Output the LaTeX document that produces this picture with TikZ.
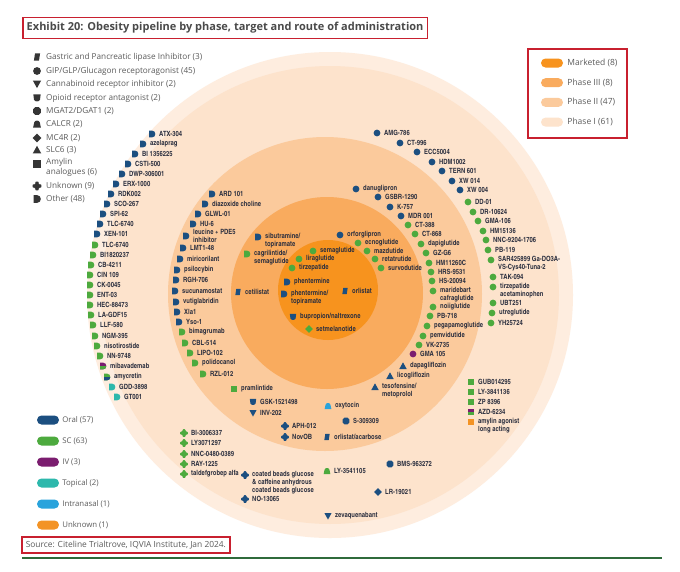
\documentclass[tikz,border=0pt]{standalone}
\usepackage{fontspec}
\setmainfont{Open Sans}
\newfontfamily\lblfont{texgyreheroscn-bold}[Extension=.otf]
\usetikzlibrary{positioning}

% route colours
\definecolor{oral}{HTML}{1C4F80}
\definecolor{sc}{HTML}{4DAA3E}
\definecolor{iv}{HTML}{7B1D6F}
\definecolor{topical}{HTML}{2DB8AC}
\definecolor{nasal}{HTML}{29A3DC}
\definecolor{unkroute}{HTML}{F39325}
% phase colours
\definecolor{mkt}{HTML}{F7931E}
\definecolor{ph3}{HTML}{F9AB5E}
\definecolor{ph2}{HTML}{FBCA9C}
\definecolor{ph1}{HTML}{FDE3CC}
\definecolor{ph1rim}{HTML}{FEEDDF}
% text and frames
\definecolor{boxred}{HTML}{C8202F}
\definecolor{lbltxt}{HTML}{2B2F3F}
\definecolor{legtxt}{HTML}{5B5B5B}
\definecolor{titletxt}{HTML}{4A4A4A}
\definecolor{legmark}{HTML}{353535}
\definecolor{rulegreen}{HTML}{2F6B3B}

\tikzset{
  lbl/.style={anchor=west, inner sep=0pt, text=lbltxt, align=left,
    font=\lblfont\fontsize{7.2}{8}\selectfont},
  lblm/.style={lbl, anchor=north west},
  legend/.style={anchor=west, inner sep=0pt, text=legtxt, align=left,
    font=\fontsize{8.2}{9.8}\selectfont},
  pill/.style={rounded corners=4.5pt, minimum width=22pt, minimum height=9pt, inner sep=0pt},
  redbox/.style={draw=boxred, line width=1.5pt},
  % target markers
  pics/lip/.style={code={\fill (-2.7,3.2) -- (1.7,3.2) -- (2.7,-3.2) -- (-1.7,-3.2) -- cycle;}},
  pics/glp/.style={code={\fill (0,0) circle (3.4);}},
  pics/cbone/.style={code={\fill (-3.6,-3) -- (3.6,-3) -- (0,3.6) -- cycle;}},
  pics/opi/.style={code={\fill (-3.2,-3.2) -- (3.2,-3.2) -- (2.6,1.4) .. controls (2.2,3.5) and (-2.2,3.5) .. (-2.6,1.4) -- cycle;}},
  pics/mgat/.style={code={\fill (22.5:3.7) \foreach \a in {67.5,112.5,...,337.5} {-- (\a:3.7)} -- cycle;}},
  pics/calcr/.style={code={\fill (-3.4,3.2) -- (3.4,3.2) -- (2.4,-1.4) .. controls (2,-3.5) and (-2,-3.5) .. (-2.4,-1.4) -- cycle;}},
  pics/mcfour/.style={code={\fill (0,-3.8) -- (3.8,0) -- (0,3.8) -- (-3.8,0) -- cycle;}},
  pics/slcsix/.style={code={\fill (-3.7,3) -- (3.7,3) -- (0,-3.7) -- cycle;}},
  pics/amy/.style={code={\fill (-3.4,-3.4) rectangle (3.4,3.4);}},
  pics/unk/.style={code={\fill[rounded corners=0.8pt] (-1.5,-3.8) -- (1.5,-3.8) -- (1.5,-1.5) -- (3.8,-1.5) -- (3.8,1.5) -- (1.5,1.5) -- (1.5,3.8) -- (-1.5,3.8) -- (-1.5,1.5) -- (-3.8,1.5) -- (-3.8,-1.5) -- (-1.5,-1.5) -- cycle;}},
  pics/oth/.style={code={\fill (-3,-3.4) -- (0,-3.4) .. controls (4.4,-3.4) and (4.4,3.4) .. (0,3.4) -- (-3,3.4) -- cycle;}},
}

% name, x, y, marker, colour, text
\newcommand{\drug}[6]{%
  \pic[#5] at (#2,#3) {#4};
  \node[lbl] (#1) at (#2+7,#3) {#6};}
% same, text hangs from the marker line
\newcommand{\drugm}[6]{%
  \pic[#5] at (#2,#3) {#4};
  \node[lblm] (#1) at (#2+7,#3-3.6) {#6};}
% two routes: top colour #5, bottom colour #6
\newcommand{\drugs}[7]{%
  \pic[#5] at (#2,#3) {#4};
  \begin{scope}\clip (#2-5,#3) rectangle (#2+5,#3+5); \pic[#6] at (#2,#3) {#4};\end{scope}
  \node[lbl] (#1) at (#2+7,#3) {#7};}

\begin{document}
\begin{tikzpicture}[x=1pt,y=-1pt]

	\fill[white] (0,0) rectangle (680,571);
	\useasboundingbox (0,0) rectangle (680,571);

	% title and source
	\node[redbox, anchor=west, inner xsep=4pt, inner ysep=0pt, minimum height=21pt,
	  text=titletxt, font=\bfseries\fontsize{11}{12}\selectfont] (title) at (22,28)
	  {Exhibit 20: Obesity pipeline by phase, target and route of administration};
	\node[redbox, anchor=west, inner xsep=4pt, inner ysep=0pt, minimum height=16pt,
	  text=legtxt, font=\fontsize{8.4}{9}\selectfont] (src) at (21,545)
	  {Source: Citeline Trialtrove, IQVIA Institute, Jan 2024.};
	\coordinate (ruleL) at (22,558);
	\coordinate (ruleR) at (662,558);
	\draw[rulegreen, line width=1.8pt] (ruleL) -- (ruleR);

	% the phase discs
	\coordinate (cI) at (330,295);
	\coordinate (cII) at (325,294);
	\coordinate (cIII) at (327,293);
	\coordinate (cM) at (328,290);
	\fill[ph1rim] (cI) circle (243);
	\fill[ph1] (cI) circle (229);
	\fill[ph2] (cII) circle (157);
	\fill[ph3] (cIII) circle (96);
	\fill[mkt] (cM) circle (50);

	% target legend
	\pic[legmark, scale=1.15] at (37,57) {lip};
	\node[legend] (kLip) at (46,57) {Gastric and Pancreatic lipase Inhibitor (3)};
	\pic[legmark, scale=1.15] at (37,71) {glp};
	\node[legend] (kGlp) at (46,71) {GIP/GLP/Glucagon receptoragonist (45)};
	\pic[legmark, scale=1.15] at (37,84) {cbone};
	\node[legend] (kCb) at (46,84) {Cannabinoid receptor inhibitor (2)};
	\pic[legmark, scale=1.15] at (37,98) {opi};
	\node[legend] (kOpi) at (46,98) {Opioid receptor antagonist (2)};
	\pic[legmark, scale=1.15] at (37,111) {mgat};
	\node[legend] (kMgat) at (46,111) {MGAT2/DGAT1 (2)};
	\pic[legmark, scale=1.15] at (37,124) {calcr};
	\node[legend] (kCalcr) at (46,124) {CALCR (2)};
	\pic[legmark, scale=1.15] at (37,138) {mcfour};
	\node[legend] (kMc) at (46,138) {MC4R (2)};
	\pic[legmark, scale=1.15] at (37,150) {slcsix};
	\node[legend] (kSlc) at (46,150) {SLC6 (3)};
	\pic[legmark, scale=1.15] at (37,164) {amy};
	\node[legend, anchor=north west] (kAmy) at (46,158.5) {Amylin\\analogues (6)};
	\pic[legmark, scale=1.15] at (37,186) {unk};
	\node[legend] (kUnk) at (46,186) {Unknown (9)};
	\pic[legmark, scale=1.15] at (37,199) {oth};
	\node[legend] (kOth) at (46,199) {Other (48)};

	% phase legend
	\draw[redbox] (528,49) rectangle (627,138);
	\node[pill, fill=mkt] (pM) at (552,63) {};
	\node[pill, fill=ph3, below=10.3pt of pM] (pIII) {};
	\node[pill, fill=ph2, below=10.3pt of pIII] (pII) {};
	\node[pill, fill=ph1, below=10.3pt of pII] (pI) {};
	\node[legend, font=\fontsize{8.5}{10}\selectfont, right=4pt of pM] (tM) {Marketed (8)};
	\node[legend, font=\fontsize{8.5}{10}\selectfont, right=4pt of pIII] (tIII) {Phase III (8)};
	\node[legend, font=\fontsize{8.5}{10}\selectfont, right=4pt of pII] (tII) {Phase II (47)};
	\node[legend, font=\fontsize{8.5}{10}\selectfont, right=4pt of pI] (tI) {Phase I (61)};

	% route legend
	\node[pill, fill=oral] (rOral) at (48,420) {};
	\node[pill, fill=sc, below=11.6pt of rOral] (rSC) {};
	\node[pill, fill=iv, below=11.6pt of rSC] (rIV) {};
	\node[pill, fill=topical, below=11.6pt of rIV] (rTop) {};
	\node[pill, fill=nasal, below=11.6pt of rTop] (rNas) {};
	\node[pill, fill=unkroute, below=11.6pt of rNas] (rUnk) {};
	\node[legend, font=\fontsize{7.8}{10}\selectfont, right=3pt of rOral] (tOral) {Oral (57)};
	\node[legend, font=\fontsize{7.8}{10}\selectfont, right=3pt of rSC] (tSC) {SC (63)};
	\node[legend, font=\fontsize{7.8}{10}\selectfont, right=3pt of rIV] (tIV) {IV (3)};
	\node[legend, font=\fontsize{7.8}{10}\selectfont, right=3pt of rTop] (tTop) {Topical (2)};
	\node[legend, font=\fontsize{7.8}{10}\selectfont, right=3pt of rNas] (tNas) {Intranasal (1)};
	\node[legend, font=\fontsize{7.8}{10}\selectfont, right=3pt of rUnk] (tUnk) {Unknown (1)};

	% marketed
	\drug{sema}{313}{251}{glp}{sc}{semaglutide}
	\drug{lira}{299}{259}{glp}{sc}{liraglutide}
	\drug{tirz}{292}{268}{glp}{sc}{tirzepatide}
	\drug{phen}{287}{282}{oth}{oral}{phentermine}
	\drugm{phentop}{284}{294}{oth}{oral}{phentermine/\\topiramate}
	\drug{orli}{345}{291}{lip}{oral}{orlistat}
	\drug{bupnal}{293}{317}{opi}{oral}{bupropion/naltrexone}
	\drug{setm}{309}{329}{mcfour}{sc}{setmelanotide}

	% phase III
	\drug{orfo}{340}{235}{glp}{oral}{orforglipron}
	\drug{ecno}{358}{243}{glp}{sc}{ecnoglutide}
	\drug{mazd}{367}{251}{glp}{sc}{mazdutide}
	\drug{reta}{375}{259}{glp}{sc}{retatrutide}
	\drug{survo}{381}{268}{glp}{sc}{survodutide}
	\drugm{sibtop}{258}{237}{oth}{oral}{sibutramine/\\topiramate}
	\drugm{cagsema}{247}{254}{oth}{sc}{cagrilintide/\\semaglutide}
	\drug{ceti}{238}{292}{lip}{oral}{cetilistat}

	% phase II, right arc
	\drug{danu}{356}{189}{glp}{oral}{danuglipron}
	\drug{gsbr}{378}{197}{glp}{oral}{GSBR-1290}
	\drug{k757}{390}{207}{glp}{oral}{K-757}
	\drug{mdr}{401}{216}{glp}{oral}{MDR 001}
	\drug{ct388}{408}{225}{glp}{sc}{CT-388}
	\drug{ct868}{415}{234}{glp}{sc}{CT-868}
	\drug{dapi}{421}{244}{glp}{sc}{dapiglutide}
	\drug{gzg6}{426}{253}{glp}{sc}{GZ-G6}
	\drug{hm112}{429}{263}{glp}{sc}{HM11260C}
	\drug{hrs}{431}{272}{glp}{sc}{HRS-9531}
	\drug{hs200}{432}{281}{glp}{sc}{HS-20094}
	\drugm{marid}{433}{291}{glp}{sc}{maridebart\\cafraglutide}
	\drug{noii}{433}{307}{glp}{sc}{noiiglutide}
	\drug{pb718}{430}{316}{glp}{sc}{PB-718}
	\drug{pega}{427}{326}{glp}{sc}{pegapamoglutide}
	\drug{pemv}{423}{336}{glp}{sc}{pemvidutide}
	\drug{vk27}{419}{345}{glp}{sc}{VK-2735}
	\drug{gma105}{413}{354}{glp}{iv}{GMA 105}
	\drug{dapa}{403}{366}{slcsix}{oral}{dapagliflozin}
	\drug{lico}{390}{376}{slcsix}{oral}{licogliflozin}
	\drugm{teso}{375}{387}{slcsix}{oral}{tesofensine/\\metoprolol}

	% phase II, left arc
	\drug{ard}{212}{194}{oth}{oral}{ARD 101}
	\drug{diaz}{205}{204}{oth}{oral}{diazoxide choline}
	\drug{glwl}{198}{214}{oth}{oral}{GLWL-01}
	\drug{hu6}{193}{224}{oth}{oral}{HU-6}
	\drug{leuc}{186}{236}{oth}{oral}{leucine + PDE5\\inhibitor}
	\drug{lmt}{183}{248}{oth}{oral}{LMT1-48}
	\drug{miri}{180}{259}{oth}{oral}{miricorilant}
	\drug{psil}{177}{270}{oth}{oral}{psilocybin}
	\drug{rgh}{176}{280}{oth}{oral}{RGH-706}
	\drug{sucu}{175}{291}{oth}{oral}{sucunamostat}
	\drug{vuti}{176}{302}{oth}{oral}{vutiglabridin}
	\drug{xla}{177}{312}{oth}{oral}{Xla1}
	\drug{yso}{179}{322}{oth}{oral}{Yso-1}
	\drug{bima}{182}{332}{oth}{sc}{bimagrumab}
	\drug{cbl}{185}{343}{oth}{sc}{CBL-514}
	\drug{lipo}{190}{353}{oth}{sc}{LIPO-102}
	\drug{poli}{195}{363}{oth}{sc}{polidocanol}
	\drug{rzl}{203}{374}{oth}{sc}{RZL-012}

	% phase II, bottom
	\drug{pram}{234}{389}{amy}{sc}{pramlintide}
	\drug{gsk}{253}{402}{opi}{oral}{GSK-1521498}
	\drug{inv}{253}{413}{cbone}{oral}{INV-202}
	\drug{aph}{285}{426}{unk}{oral}{APH-012}
	\drug{novob}{285}{437}{unk}{oral}{NovOB}
	\drug{oxy}{328}{406}{calcr}{nasal}{oxytocin}
	\drug{s309}{346}{421}{mgat}{oral}{S-309309}
	\drug{orlaca}{327}{437}{lip}{oral}{orlistat/acarbose}

	% phase I, right arc
	\drug{amg}{377}{133}{glp}{oral}{AMG-786}
	\drug{ct996}{400}{143}{glp}{oral}{CT-996}
	\drug{ecc}{417}{152}{glp}{oral}{ECC5004}
	\drug{hdm}{432}{162}{glp}{oral}{HDM1002}
	\drug{tern}{442}{171}{glp}{oral}{TERN 601}
	\drug{xw14}{452}{181}{glp}{oral}{XW 014}
	\drug{xw04}{460}{190}{glp}{oral}{XW 004}
	\drug{dd01}{468}{202}{glp}{sc}{DD-01}
	\drug{dr10}{473}{212}{glp}{sc}{DR-10624}
	\drug{gma106}{478}{221}{glp}{sc}{GMA-106}
	\drug{hm151}{483}{231}{glp}{sc}{HM15136}
	\drug{nnc92}{486}{240}{glp}{sc}{NNC-9204-1706}
	\drug{pb119}{488}{250}{glp}{sc}{PB-119}
	\drugm{sar}{491}{260}{glp}{sc}{SAR425899 Ga-DO3A-\\VS-Cys40-Tuna-2}
	\drug{tak}{493}{277}{glp}{sc}{TAK-094}
	\drugm{tirzac}{493}{287}{glp}{sc}{tirzepatide\\acetaminophen}
	\drug{ubt}{493}{303}{glp}{sc}{UBT251}
	\drug{utre}{492}{313}{glp}{sc}{utreglutide}
	\drug{yh}{491}{323}{glp}{sc}{YH25724}

	% phase I, left arc
	\drug{atx}{152}{134}{oth}{oral}{ATX-304}
	\drug{azel}{143}{144}{oth}{oral}{azelaprag}
	\drug{bi135}{135}{154}{oth}{oral}{BI 1356225}
	\drug{csti}{128}{164}{oth}{oral}{CSTI-500}
	\drug{dwp}{122}{174}{oth}{oral}{DWP-306001}
	\drug{erx}{116}{184}{oth}{oral}{ERX-1000}
	\drug{rdk}{111}{194}{oth}{oral}{RDK002}
	\drug{sco}{107}{204}{oth}{oral}{SCO-267}
	\drug{spi}{103}{214}{oth}{oral}{SPI-62}
	\drug{tlca}{100}{224}{oth}{oral}{TLC-6740}
	\drug{xen}{97}{234}{oth}{oral}{XEN-101}
	\drug{tlcb}{95}{245}{oth}{sc}{TLC-6740}
	\drug{bi182}{93}{255}{oth}{sc}{BI1820237}
	\drug{cb42}{91}{265}{oth}{sc}{CB-4211}
	\drug{cin}{90}{275}{oth}{sc}{CIN 109}
	\drug{ck00}{90}{285}{oth}{sc}{CK-0045}
	\drug{ent}{90}{295}{oth}{sc}{ENT-03}
	\drug{hec}{90}{305}{oth}{sc}{HEC-88473}
	\drug{lagdf}{91}{315}{oth}{sc}{LA-GDF15}
	\drug{llf}{93}{325}{oth}{sc}{LLF-580}
	\drug{ngm}{95}{336}{oth}{sc}{NGM-395}
	\drug{niso}{97}{346}{oth}{sc}{nisotirostide}
	\drug{nn97}{100}{356}{oth}{sc}{NN-9748}
	\drugs{miba}{103}{366}{oth}{iv}{sc}{mibavademab}
	\drugs{amyc}{107}{377}{oth}{sc}{oral}{amycretin}
	\drug{gdd}{112}{387}{oth}{topical}{GDD-3898}
	\drug{gt001}{117}{397}{oth}{topical}{GT001}

	% phase I, bottom
	\drug{gub}{471}{382}{amy}{sc}{GUB014295}
	\drug{ly384}{471}{392}{amy}{sc}{LY-3841136}
	\drug{zp}{471}{402}{amy}{sc}{ZP 8396}
	\drugs{azd}{471}{412}{amy}{iv}{sc}{AZD-6234}
	\drugm{amyla}{471}{422}{amy}{unkroute}{amylin agonist\\long acting}
	\drug{bi300}{184}{433}{unk}{sc}{BI-3006337}
	\drug{ly307}{184}{443}{unk}{sc}{LY3071297}
	\drug{nnc04}{184}{454}{unk}{sc}{NNC-0480-0389}
	\drug{ray}{184}{464}{unk}{sc}{RAY-1225}
	\drug{tald}{184}{474}{unk}{sc}{taldefgrobep alfa}
	\drugm{coat}{245}{475}{unk}{oral}{coated beads glucose\\\& caffeine anhydrous\\coated beads glucose}
	\drug{no13}{245}{499}{unk}{oral}{NO-13065}
	\drug{ly354}{327}{471}{calcr}{sc}{LY-3541105}
	\drug{bms}{390}{464}{mgat}{oral}{BMS-963272}
	\drug{lr19}{378}{492}{mcfour}{oral}{LR-19021}
	\drug{zeva}{328}{516}{cbone}{oral}{zevaquenabant}

\end{tikzpicture}
\end{document}
